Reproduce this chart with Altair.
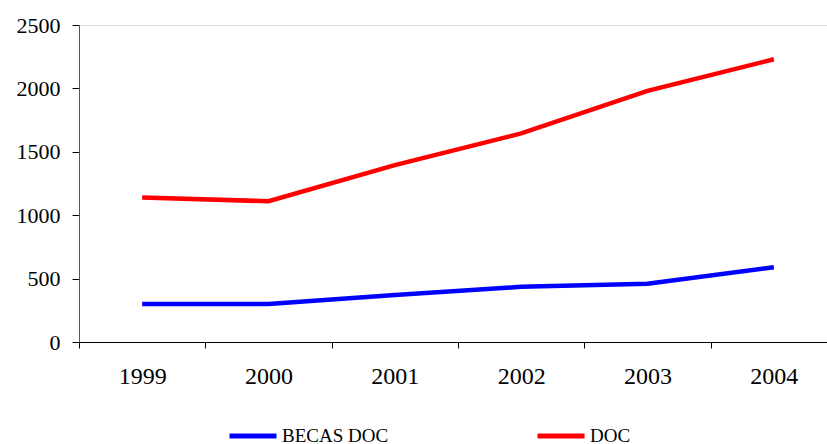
import altair as alt
import pandas as pd

years = ["1999", "2000", "2001", "2002", "2003", "2004"]
becas_doc = [300, 300, 370, 435, 460, 590]
doc = [1140, 1110, 1395, 1645, 1980, 2230]
series_names = ["BECAS DOC", "DOC"]
series_colors = ["#0000FF", "#FF0000"]

df = pd.concat([
    pd.DataFrame({"Año": years, "Valor": becas_doc, "Serie": series_names[0]}),
    pd.DataFrame({"Año": years, "Valor": doc, "Serie": series_names[1]}),
])

FONT = "Liberation Serif"

chart = alt.Chart(df).mark_line(strokeWidth=4.5, clip=False).encode(
    x=alt.X(
        "Año:N",
        sort=years,
        scale=alt.Scale(range=[0, 758], paddingInner=0, paddingOuter=0),
        axis=alt.Axis(
            title=None, labelAngle=0, tickBand="extent", ticks=True, tickSize=6,
            tickColor="#000000", domainColor="#000000", labelPadding=16,
            labelFont=FONT, labelFontSize=24, labelColor="#000000", grid=False,
        ),
    ),
    y=alt.Y(
        "Valor:Q",
        scale=alt.Scale(domain=[0, 2500], nice=False),
        axis=alt.Axis(
            title=None, values=[0, 500, 1000, 1500, 2000, 2500], format="d",
            tickSize=7, tickColor="#000000", domainColor="#555555",
            labelPadding=12, labelFont=FONT, labelFontSize=22,
            labelColor="#000000", grid=False,
        ),
    ),
    color=alt.Color(
        "Serie:N",
        scale=alt.Scale(domain=series_names, range=series_colors),
        legend=alt.Legend(
            title=None, orient="none", direction="horizontal",
            legendX=148, legendY=385, symbolType="stroke", symbolSize=2209,
            symbolStrokeWidth=5, labelOffset=3, columnPadding=138,
            labelFont=FONT, labelFontSize=19, labelColor="#000000",
        ),
    ),
).properties(
    width=748,
    height=317,
    autosize=alt.AutoSizeParams(type="none"),
    padding={"left": 79, "top": 25, "right": 0, "bottom": 102},
).configure_view(stroke=None).configure(background="#FFFFFF")

chart.save("out.html", embed_options={"renderer": "svg", "actions": False})
